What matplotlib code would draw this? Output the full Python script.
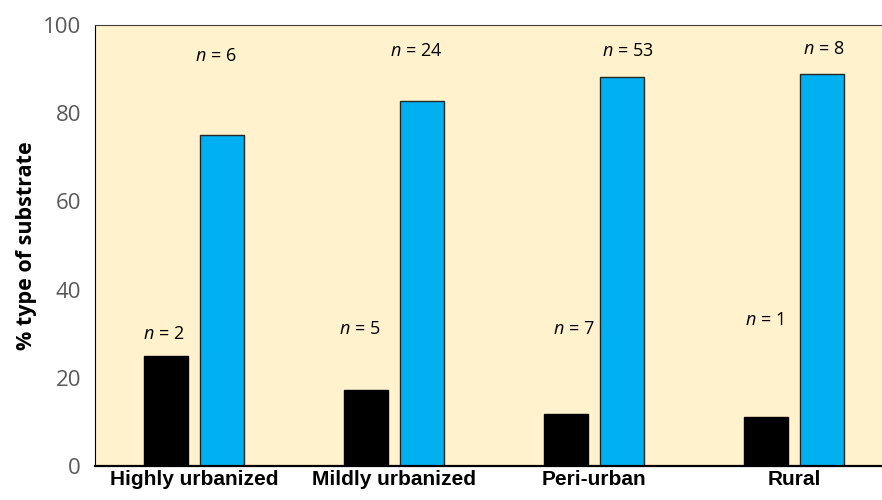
import numpy as np
import matplotlib.pyplot as plt

plt.rcParams['mathtext.fontset'] = 'custom'
plt.rcParams['mathtext.it'] = 'Open Sans:italic'
plt.rcParams['mathtext.rm'] = 'Open Sans'

# substrate type per urbanization class
categories = ['Highly urbanized', 'Mildly urbanized', 'Peri-urban', 'Rural']
n_black = [2, 5, 7, 1]
n_blue = [6, 24, 53, 8]
pct_black = [25.0, 17.2, 11.7, 11.1]
pct_blue = [75.0, 82.8, 88.3, 88.9]

# label placement (x offset from group centre, y in data units)
lab_black_dx = [-0.15, -0.17, -0.10, -0.15]
lab_black_y = [30, 31, 31, 33]
lab_blue_dx = [0.11, 0.11, 0.17, 0.15]
lab_blue_y = [93, 94, 94, 94.5]

x = np.arange(len(categories))
w = 0.22
off = 0.14

fig = plt.figure(figsize=(8.82, 5.0), dpi=100)
ax = fig.add_axes([95/882, 34/500, 787/882, 441/500])
ax.set_facecolor('#FFF2CC')

ax.bar(x - off, pct_black, w, color='black', edgecolor='black', linewidth=1)
ax.bar(x + off, pct_blue, w, color='#00B0F0', edgecolor='#262626', linewidth=1)

for i in range(len(categories)):
    ax.text(x[i] + lab_black_dx[i], lab_black_y[i], r'$n$ = %d' % n_black[i],
            ha='center', va='center', fontsize=13, family='Open Sans')
    ax.text(x[i] + lab_blue_dx[i], lab_blue_y[i], r'$n$ = %d' % n_blue[i],
            ha='center', va='center', fontsize=13, family='Open Sans')

ax.set_xlim(-0.495, 3.44)
ax.set_ylim(0, 100)
ax.set_yticks(range(0, 101, 20))
ax.set_xticks(x)
ax.set_xticklabels(categories, fontweight='bold', fontsize=15,
                   family='Liberation Sans')
ax.tick_params(axis='both', length=0)
ax.tick_params(axis='y', labelsize=16, labelcolor='#595959', pad=10)
for t in ax.get_yticklabels():
    t.set_family('Open Sans')
ax.tick_params(axis='x', pad=3)
ax.set_ylabel('% type of substrate', fontweight='bold', fontsize=15.5,
              family='Open Sans', labelpad=4)

ax.spines['right'].set_visible(False)
ax.spines['top'].set_color('#404040')
ax.spines['left'].set_color('black')
ax.spines['bottom'].set_linewidth(1.6)

plt.savefig('out.png', dpi=100)
